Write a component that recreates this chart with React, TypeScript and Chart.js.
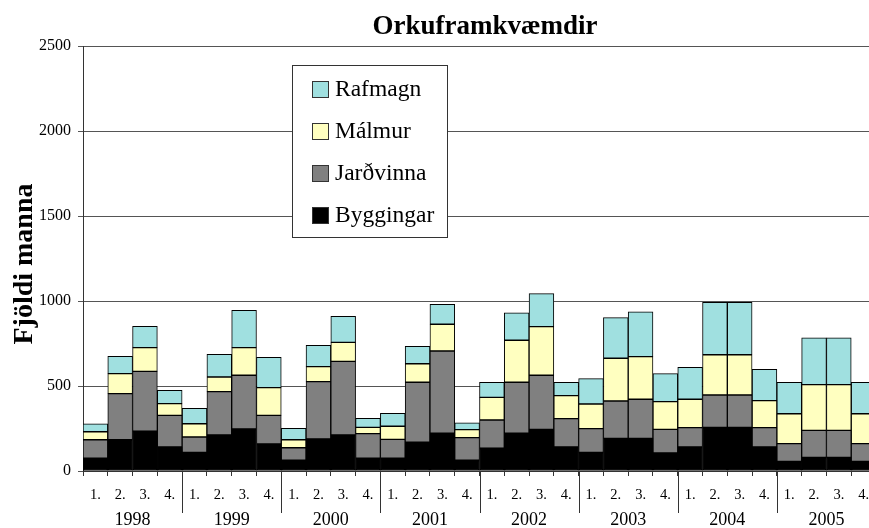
import React, { useEffect, useRef } from "react";
import { Chart, registerables } from "chart.js";

Chart.register(...registerables);

const years = ["1998", "1999", "2000", "2001", "2002", "2003", "2004", "2005"];
const quarterLabels = ["1.", "2.", "3.", "4."];
const categories: string[] = years.flatMap(() => quarterLabels);

const byggingar = [
  75, 184, 235, 141, 110, 212, 247, 159, 63, 188, 212, 75, 75, 169, 222, 63,
  135, 222, 245, 141, 110, 192, 192, 106, 141, 257, 257, 141, 57, 80, 80, 57,
];
const jardvinna = [
  109, 271, 351, 186, 90, 255, 316, 168, 74, 338, 433, 145, 111, 353, 484, 133,
  165, 300, 318, 167, 139, 220, 230, 139, 114, 190, 190, 114, 104, 159, 159, 104,
];
const malmur = [
  47, 118, 140, 69, 78, 86, 163, 163, 47, 88, 112, 37, 77, 109, 157, 47,
  133, 247, 286, 135, 145, 251, 251, 163, 167, 237, 237, 159, 176, 269, 269, 176,
];
const rafmagn = [
  47, 102, 125, 79, 91, 133, 219, 179, 67, 125, 153, 53, 76, 102, 117, 41,
  89, 162, 194, 79, 149, 239, 264, 165, 188, 308, 308, 184, 185, 276, 276, 185,
];

const seriesNames = ["Byggingar", "Jarðvinna", "Málmur", "Rafmagn"];
const seriesColors = ["#000000", "#808080", "#ffffc0", "#a0e0e0"];
const yTicks = [0, 500, 1000, 1500, 2000, 2500];
const yTitle = "Fjöldi manna";

const FONT = "'Liberation Serif', 'Times New Roman', serif";

const overlayPlugin = {
  id: "overlayPlugin",
  afterDraw(chart: any) {
    const { ctx, chartArea } = chart;
    const xs = chart.scales.x;
    ctx.save();
    // y axis title
    ctx.save();
    ctx.translate(24.5, 264);
    ctx.rotate(-Math.PI / 2);
    ctx.fillStyle = "#000";
    ctx.font = `bold 28px ${FONT}`;
    ctx.textAlign = "center";
    ctx.textBaseline = "middle";
    ctx.fillText(yTitle, 0, 0);
    ctx.restore();

    // year separators and labels
    ctx.strokeStyle = "#333333";
    ctx.lineWidth = 1;
    for (let i = 1; i < years.length; i++) {
      const px = Math.round(xs.getPixelForValue(4 * i - 0.5)) + 0.5;
      ctx.beginPath();
      ctx.moveTo(px, chartArea.bottom);
      ctx.lineTo(px, 513);
      ctx.stroke();
    }
    ctx.fillStyle = "#000";
    ctx.font = `18px ${FONT}`;
    ctx.textAlign = "center";
    ctx.textBaseline = "alphabetic";
    years.forEach((yr, i) => {
      const cx = xs.getPixelForValue(4 * i + 1.5);
      ctx.fillText(yr, cx, 525);
    });

    // legend box
    const bx = 292.5, by = 65.5, bw = 155, bh = 172;
    ctx.fillStyle = "#ffffff";
    ctx.fillRect(bx, by, bw, bh);
    ctx.strokeStyle = "#333333";
    ctx.strokeRect(bx, by, bw, bh);
    const order = [3, 2, 1, 0];
    ctx.font = `23.5px ${FONT}`;
    ctx.textAlign = "left";
    ctx.textBaseline = "middle";
    order.forEach((di, k) => {
      const ds = chart.data.datasets[di];
      const cy = 89.5 + 42 * k;
      ctx.fillStyle = ds.backgroundColor;
      ctx.fillRect(312.5, cy - 8, 16, 16);
      ctx.strokeStyle = "#333333";
      ctx.strokeRect(312.5, cy - 8, 16, 16);
      ctx.fillStyle = "#000";
      ctx.fillText(ds.label, 335, cy);
    });
    ctx.restore();
  },
};

export default function App() {
  const ref = useRef<HTMLCanvasElement | null>(null);
  useEffect(() => {
    if (!ref.current) return;
    const seriesData = [byggingar, jardvinna, malmur, rafmagn];
    const chart = new Chart(ref.current, {
      type: "bar",
      data: {
        labels: categories,
        datasets: seriesNames.map((name, i) => ({
          label: name,
          data: seriesData[i],
          backgroundColor: seriesColors[i],
          borderColor: "#000000",
          borderWidth: 1,
          borderSkipped: false,
          barPercentage: 1,
          categoryPercentage: 1,
        })),
      },
      options: {
        responsive: false,
        animation: false,
        devicePixelRatio: 1,
        layout: { padding: 0 },
        font: { family: FONT },
        plugins: {
          legend: { display: false },
          tooltip: { enabled: false },
          title: {
            display: true,
            text: "Orkuframkvæmdir",
            color: "#000",
            font: { family: FONT, size: 27, weight: "bold" },
            padding: { top: 10.6, bottom: 3 },
          },
        },
        scales: {
          x: {
            stacked: true,
            offset: true,
            grid: {
              display: true,
              drawOnChartArea: false,
              drawTicks: true,
              tickLength: 5,
              offset: true,
              color: "#333333",
            },
            border: { display: true, color: "#333333" },
            ticks: {
              color: "#000",
              font: { family: FONT, size: 14.5 },
              padding: 10,
              maxRotation: 0,
              autoSkip: false,
            },
            afterFit: (scale: any) => {
              scale.height = 57;
            },
          },
          y: {
            stacked: true,
            min: 0,
            max: 2500,
            afterBuildTicks: (scale: any) => {
              scale.ticks = yTicks.map((v) => ({ value: v }));
            },
            grid: { color: "#555555", tickLength: 5 },
            border: { display: true, color: "#333333" },
            ticks: {
              color: "#000",
              font: { family: FONT, size: 16 },
              padding: 7,
              callback: (v: any) => String(v),
            },
            title: { display: false, text: yTitle },
            afterFit: (scale: any) => {
              scale.width = 83;
            },
          },
          spacer: {
            type: "linear",
            position: "right",
            display: true,
            grid: { display: false, drawTicks: false },
            border: { display: false },
            ticks: { display: false },
            afterFit: (scale: any) => {
              scale.width = 94;
            },
          },
        },
      },
      plugins: [overlayPlugin],
    });
    return () => chart.destroy();
  }, []);

  return (
    <div
      style={{
        position: "fixed",
        left: 0,
        top: 0,
        width: 869,
        height: 528,
        overflow: "hidden",
        background: "#fff",
      }}
    >
      <canvas ref={ref} width={970} height={528} style={{ display: "block" }} />
    </div>
  );
}
